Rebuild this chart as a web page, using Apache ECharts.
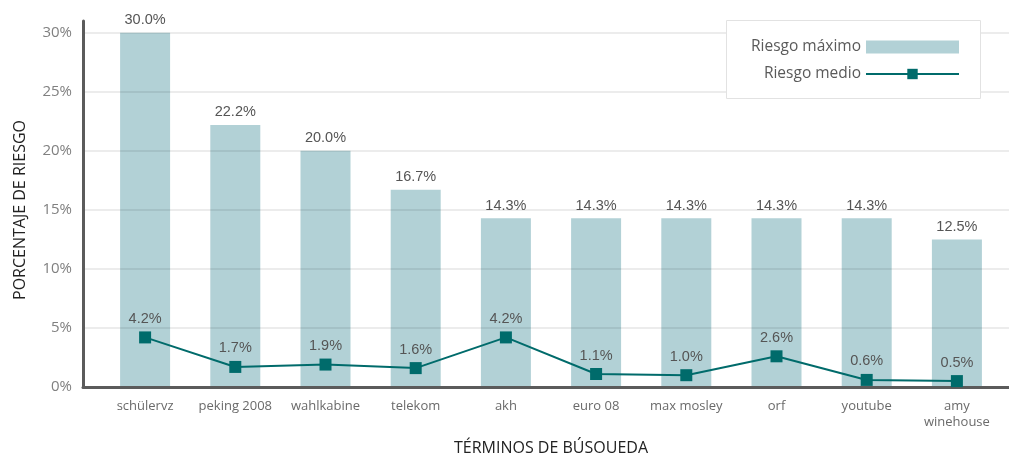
<!DOCTYPE html>
<html>
<head>
<meta charset="utf-8">
<script src="https://cdn.jsdelivr.net/npm/echarts@6/dist/echarts.min.js"></script>
<style>
  html, body { margin: 0; padding: 0; background: #fff; }
  #chart { width: 1009px; height: 454px; }
</style>
</head>
<body>
<div id="chart"></div>
<script>
  // categories and values
  var terms = ["schülervz", "peking 2008", "wahlkabine", "telekom", "akh", "euro 08", "max mosley", "orf", "youtube", "amy\nwinehouse"];
  var riesgoMaximo = [30.0, 22.2, 20.0, 16.7, 14.3, 14.3, 14.3, 14.3, 14.3, 12.5];
  var riesgoMedio = [4.2, 1.7, 1.9, 1.6, 4.2, 1.1, 1.0, 2.6, 0.6, 0.5];

  var font = "'Open Sans', 'Noto Sans', sans-serif";
  var labelFont = "'Liberation Sans', Arial, sans-serif";
  var pct = function (p) { return p.value.toFixed(1) + "%"; };

  var myChart = echarts.init(document.getElementById("chart"));
  var option = {
    textStyle: { fontFamily: font },
    animation: false,
    grid: [
      // bars and line
      { left: 100, right: 7, top: 21, bottom: 67, containLabel: false, outerBoundsMode: "none" },
      // full width frame: gridlines, y labels, base line
      { left: 83, right: 0, top: 33, bottom: 67, containLabel: false, outerBoundsMode: "none" }
    ],
    // legend frame
    graphic: [
      {
        type: "rect",
        right: 28,
        top: 20,
        z: 90,
        shape: { width: 254, height: 78 },
        style: { fill: "#fff", stroke: "#e2e2e2", lineWidth: 1 }
      }
    ],
    legend: {
      orient: "vertical",
      align: "right",
      right: 27,
      top: 22,
      z: 100,
      padding: [17, 22, 17, 20],
      itemGap: 11,
      itemWidth: 93,
      itemHeight: 13,
      textStyle: { fontSize: 15.5, color: "#5a5a5a", fontFamily: font },
      data: [{ name: "Riesgo máximo", icon: "rect" }, "Riesgo medio"]
    },
    xAxis: [
      {
        type: "category",
        gridIndex: 0,
        data: terms,
        axisLine: { show: false },
        axisTick: { show: false },
        axisLabel: { interval: 0, fontSize: 13, color: "#6a6a6a", margin: 11, lineHeight: 16 },
        name: "TÉRMINOS DE BÚSOUEDA",
        nameLocation: "middle",
        nameGap: 53,
        nameTextStyle: { fontSize: 16, color: "#222" }
      },
      {
        type: "value",
        gridIndex: 1,
        min: 0,
        max: 1,
        z: 5,
        axisLine: { show: true, lineStyle: { color: "#5b5b5b", width: 3 } },
        axisTick: { show: false },
        axisLabel: { show: false },
        splitLine: { show: false }
      }
    ],
    yAxis: [
      {
        type: "value",
        gridIndex: 0,
        min: 0,
        max: 31,
        offset: 17,
        z: 5,
        axisLine: { show: true, lineStyle: { color: "#5b5b5b", width: 3 } },
        axisTick: { show: false },
        axisLabel: { show: false },
        splitLine: { show: false }
      },
      {
        type: "value",
        gridIndex: 1,
        min: 0,
        max: 30,
        interval: 5,
        z: 3,
        axisLine: { show: false },
        axisTick: { show: false },
        axisLabel: { formatter: "{value}%", fontSize: 15, color: "#808080", margin: 11 },
        splitLine: { lineStyle: { color: "rgba(0,0,0,0.1)", width: 1.5 } },
        name: "PORCENTAJE DE RIESGO",
        nameLocation: "middle",
        nameGap: 55,
        nameTextStyle: { fontSize: 16, color: "#222" }
      }
    ],
    series: [
      {
        name: "Riesgo máximo",
        type: "bar",
        xAxisIndex: 0,
        yAxisIndex: 0,
        barWidth: 50,
        data: riesgoMaximo,
        itemStyle: { color: "#b2d1d6" },
        label: { show: true, position: "top", distance: 5, fontSize: 14.5, color: "#555", fontFamily: labelFont, formatter: pct }
      },
      {
        name: "Riesgo medio",
        type: "line",
        xAxisIndex: 0,
        yAxisIndex: 0,
        z: 6,
        data: riesgoMedio,
        symbol: "rect",
        symbolSize: 12,
        itemStyle: { color: "#006b6b" },
        lineStyle: { color: "#006b6b", width: 2 },
        label: { show: true, position: "top", distance: 5, fontSize: 14.5, color: "#555", fontFamily: labelFont, formatter: pct }
      }
    ]
  };

  option && myChart.setOption(option);
</script>
</body>
</html>
